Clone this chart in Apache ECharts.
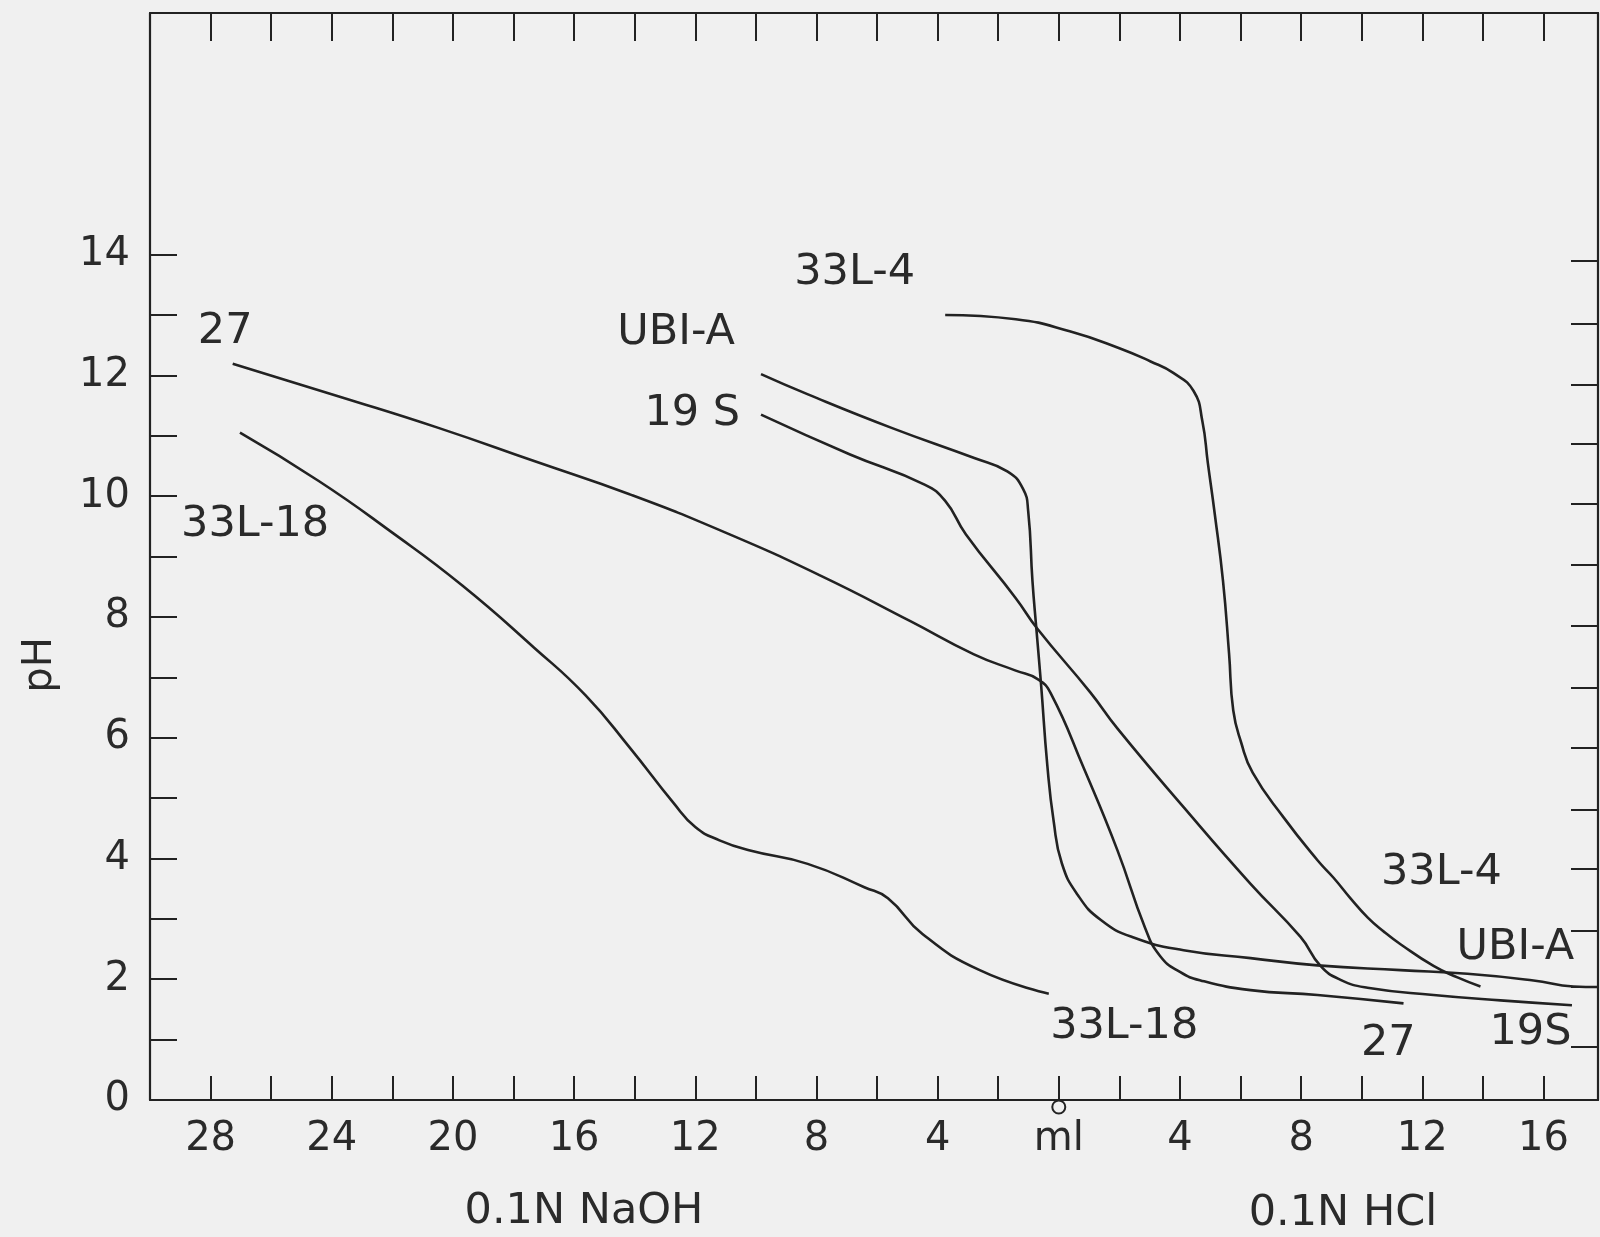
<!DOCTYPE html>
<html>
<head>
<meta charset="utf-8">
<script src="https://cdn.jsdelivr.net/npm/echarts@6/dist/echarts.min.js"></script>
<style>
html,body{margin:0;padding:0;background:#f0f0f0;}
#chart{width:1600px;height:1237px;}
</style>
</head>
<body>
<div id="chart"></div>
<script>
// x: ml of titrant; negative = 0.1N NaOH (left), positive = 0.1N HCl (right)
const curve33L4 = [[-3.75,13.00],[-1.42,12.93],[0.36,12.73],[2.00,12.45],[3.03,12.23],[3.78,12.04],[4.45,11.74],[4.74,11.24],[4.92,10.55],[5.15,9.70],[5.42,8.60],[5.62,7.40],[5.76,6.45],[6.02,5.92],[6.40,5.42],[7.42,4.68],[8.54,3.97],[9.07,3.68],[9.63,3.34],[10.20,3.02],[10.75,2.78],[11.28,2.58],[12.37,2.22],[13.16,2.03],[13.92,1.88]];
const curveUBIA = [[-9.83,12.02],[-8.26,11.68],[-5.52,11.13],[-2.79,10.63],[-1.70,10.41],[-1.18,10.12],[-1.01,9.75],[-0.87,8.60],[-0.74,7.80],[-0.58,6.85],[-0.38,5.55],[-0.17,4.62],[0.10,3.92],[0.62,3.40],[1.39,2.98],[2.47,2.69],[4.12,2.48],[6.33,2.35],[8.54,2.23],[11.28,2.15],[13.49,2.09],[15.67,1.98],[16.99,1.88],[17.80,1.87]];
const curve19S = [[-9.83,11.35],[-6.89,10.69],[-4.43,10.19],[-3.75,9.92],[-3.07,9.37],[-1.42,8.31],[-0.70,7.80],[1.04,6.75],[1.94,6.15],[4.12,4.85],[6.33,3.58],[7.98,2.70],[8.64,2.22],[9.30,1.99],[10.19,1.86],[12.37,1.74],[14.58,1.65],[16.94,1.57]];
const curve27 = [[-27.27,12.19],[-23.63,11.63],[-20.48,11.13],[-17.32,10.58],[-14.17,10.03],[-11.02,9.40],[-7.85,8.68],[-4.90,7.93],[-2.80,7.38],[-1.42,7.11],[-0.70,6.97],[-0.26,6.73],[0.82,5.50],[1.94,4.13],[2.85,2.85],[3.35,2.38],[4.00,2.12],[4.68,1.98],[6.33,1.82],[8.54,1.74],[11.38,1.60]];
const curve33L18 = [[-27.03,11.05],[-24.43,10.25],[-22.07,9.42],[-19.69,8.52],[-17.32,7.49],[-15.62,6.70],[-14.17,5.84],[-12.72,4.92],[-12.00,4.52],[-11.20,4.30],[-10.19,4.13],[-8.29,3.91],[-6.40,3.52],[-5.64,3.34],[-4.50,2.75],[-2.61,2.15],[-0.33,1.76]];

const curveLabels = ['33L-4','UBI-A','19 S','27','33L-18','33L-18','27','19S','33L-4','UBI-A'];
const curveLabelX = [-6.74,-12.63,-12.10,-27.52,-26.53,2.16,10.88,15.57,12.63,15.07];
const curveLabelY = [13.70,12.70,11.36,12.72,9.52,1.21,0.93,1.11,3.76,2.52];

const xTickValues = [-28,-26,-24,-22,-20,-18,-16,-14,-12,-10,-8,-6,-4,-2,0,2,4,6,8,10,12,14,16];
const xLabelValues = [-28,-24,-20,-16,-12,-8,-4,0,4,8,12,16];
const yTickValues = [1,2,3,4,5,6,7,8,9,10,11,12,13,14];
const yLabelValues = [0,2,4,6,8,10,12,14];
const rightTickValues = [0.88,1.87,2.80,3.83,4.80,5.83,6.82,7.85,8.87,9.88,10.87,11.85,12.85,13.90];
const originMark = [[0,0]];

const ink = '#222222';
const textInk = '#2a2a2a';
const font = 'DejaVu Sans';

const chart = echarts.init(document.getElementById('chart'), null, {renderer:'canvas'});

function curveSeries(name, data){
  return {name, type:'line', data, xAxisIndex:0, yAxisIndex:0, showSymbol:false, symbol:'none',
    smooth:0.5, lineStyle:{color:ink, width:2.6}, animation:false, z:3};
}

const labelData = curveLabels.map((t,i)=>({value:[curveLabelX[i], curveLabelY[i]], name:t}));

const option = {
  backgroundColor:'#f0f0f0',
  animation:false,
  grid:{left:150, right:2, top:13, bottom:137, containLabel:false},
  xAxis:[
    {type:'value', position:'bottom', min:-30, max:17.8,
      axisLine:{show:true, onZero:false, lineStyle:{color:ink, width:2.2}},
      axisTick:{show:true, inside:true, length:24, customValues:xTickValues, lineStyle:{color:ink, width:2}},
      axisLabel:{show:true, customValues:xLabelValues, margin:20, color:textInk, fontSize:40, fontFamily:font,
        formatter:v=> v===0 ? 'ml' : String(Math.abs(v))},
      splitLine:{show:false}},
    {type:'value', position:'top', min:-30, max:17.8,
      axisLine:{show:true, onZero:false, lineStyle:{color:ink, width:2.2}},
      axisTick:{show:true, inside:true, length:28, customValues:xTickValues, lineStyle:{color:ink, width:2}},
      axisLabel:{show:false}, splitLine:{show:false}}
  ],
  yAxis:[
    {type:'value', position:'left', min:0, max:18,
      axisLine:{show:true, onZero:false, lineStyle:{color:ink, width:2.2}},
      axisTick:{show:true, inside:true, length:27, customValues:yTickValues, lineStyle:{color:ink, width:2}},
      axisLabel:{show:true, customValues:yLabelValues, margin:20, color:textInk, fontSize:40, fontFamily:font},
      splitLine:{show:false}},
    {type:'value', position:'right', min:0, max:18,
      axisLine:{show:true, onZero:false, lineStyle:{color:ink, width:2.2}},
      axisTick:{show:true, inside:true, length:27, customValues:rightTickValues, lineStyle:{color:ink, width:2}},
      axisLabel:{show:false}, splitLine:{show:false}}
  ],
  graphic:[
    {type:'text', x:41, y:665, rotation:Math.PI/2,
      style:{text:'pH', fill:textInk, font:'40px "DejaVu Sans"', textAlign:'center', textVerticalAlign:'middle'}},
    {type:'text', x:584, y:1212,
      style:{text:'0.1N NaOH', fill:textInk, font:'43px "DejaVu Sans"', textAlign:'center', textVerticalAlign:'middle'}},
    {type:'text', x:1343, y:1214,
      style:{text:'0.1N HCl', fill:textInk, font:'43px "DejaVu Sans"', textAlign:'center', textVerticalAlign:'middle'}}
  ],
  series:[
    curveSeries('33L-4', curve33L4),
    curveSeries('UBI-A', curveUBIA),
    curveSeries('19S', curve19S),
    curveSeries('27', curve27),
    curveSeries('33L-18', curve33L18),
    {type:'scatter', data:labelData, symbolSize:0, xAxisIndex:0, yAxisIndex:0, clip:false, z:5,
      itemStyle:{opacity:1},
      label:{show:true, position:'inside', formatter:p=>p.name, color:textInk, opacity:1, fontSize:43, fontFamily:font}},
    {type:'scatter', data:originMark, symbol:'circle', symbolSize:13, symbolOffset:[0,7], clip:false, z:6,
      itemStyle:{color:'rgba(0,0,0,0)', borderColor:ink, borderWidth:2, opacity:1}}
  ]
};
chart.setOption(option);
</script>
</body>
</html>
